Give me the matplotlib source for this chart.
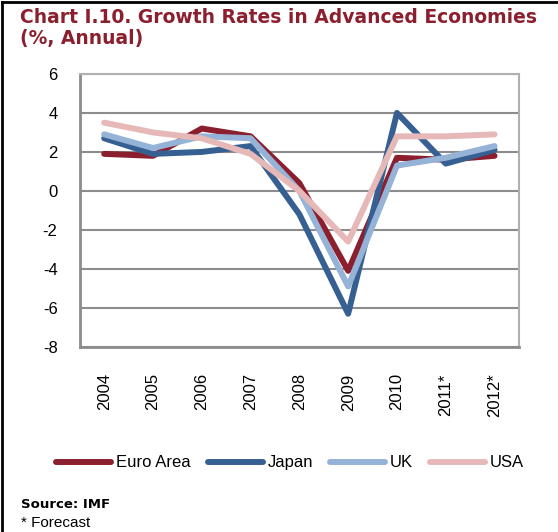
import matplotlib.pyplot as plt
from matplotlib.lines import Line2D

years = ["2004", "2005", "2006", "2007", "2008", "2009", "2010", "2011*", "2012*"]

euro_area = [1.9, 1.8, 3.2, 2.8, 0.4, -4.1, 1.7, 1.6, 1.8]
japan = [2.7, 1.9, 2.0, 2.3, -1.2, -6.3, 4.0, 1.4, 2.1]
uk = [2.9, 2.2, 2.8, 2.7, 0.0, -4.9, 1.3, 1.7, 2.3]
usa = [3.5, 3.0, 2.7, 1.9, 0.0, -2.6, 2.8, 2.8, 2.9]

series = [
    ("Euro Area", euro_area, "#8c1f2e"),
    ("Japan", japan, "#376092"),
    ("UK", uk, "#95b3d7"),
    ("USA", usa, "#e6b9b8"),
]

title_color = "#8c1f2e"
grid_color = "#8c8c8c"
body_font = "Liberation Sans"

plt.rcParams["axes.unicode_minus"] = False

fig = plt.figure(figsize=(5.58, 5.32), dpi=100)
ax = fig.add_axes([0.143, 0.348, 0.787, 0.513])

x = range(len(years))
handles = []
for label, values, color in series:
    ax.plot(x, values, color=color, linewidth=4.3, solid_capstyle="round",
            solid_joinstyle="round", zorder=3)
    handles.append(Line2D([], [], color=color, linewidth=4.3,
                          solid_capstyle="round", label=label))

ax.set_xlim(-0.5, len(years) - 0.5)
ax.set_ylim(-8, 6)
ax.set_yticks(range(-8, 7, 2))
ax.set_xticks(list(x))
ax.set_xticklabels(years, rotation=90, fontsize=12, family=body_font)
for lbl in ax.get_yticklabels():
    lbl.set_family(body_font)
    lbl.set_fontsize(12)
    lbl.set_horizontalalignment("right")
ax.tick_params(axis="y", length=0, pad=16)
ax.tick_params(axis="x", length=0, pad=19)

ax.grid(axis="y", color=grid_color, linewidth=1.5, zorder=1)
for side in ["top", "right"]:
    ax.spines[side].set_color("#b0b0b0")
    ax.spines[side].set_linewidth(1.5)
for side in ["left", "bottom"]:
    ax.spines[side].set_color(grid_color)
    ax.spines[side].set_linewidth(2)

fig.legend(handles=handles, loc="center", bbox_to_anchor=(0.52, 0.13),
           ncol=4, frameon=False, prop={"family": body_font, "size": 12},
           handlelength=3.3, handletextpad=0.3, columnspacing=1.0)

fig.text(0.036, 0.985, "Chart I.10. Growth Rates in Advanced Economies\n(%, Annual)",
         color=title_color, fontsize=13.5, fontweight="bold", va="top",
         ha="left", linespacing=1.15)
fig.text(0.038, 0.052, "Source: IMF", fontsize=9.5, fontweight="bold",
         va="center", ha="left")
fig.text(0.038, 0.017, "* Forecast", fontsize=11, va="center", ha="left",
         family=body_font)

# frame lines along the left and top edges of the figure
fig.add_artist(Line2D([0.004, 0.004], [0, 0.996], color="black", linewidth=2,
                      transform=fig.transFigure))
fig.add_artist(Line2D([0.004, 1], [0.996, 0.996], color="black", linewidth=2,
                      transform=fig.transFigure))

fig.savefig("out.png", dpi=100)
